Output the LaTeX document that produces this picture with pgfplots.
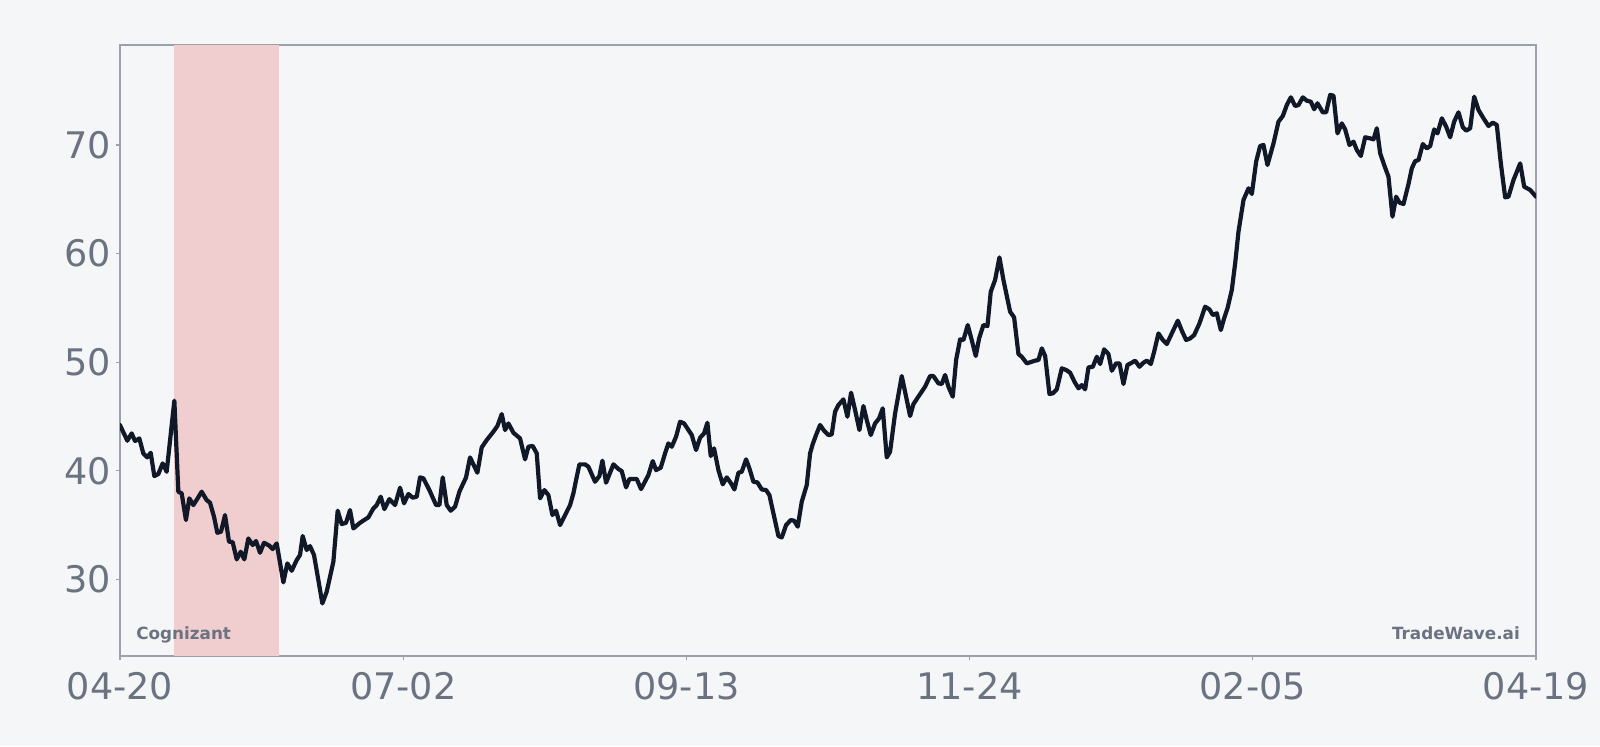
\documentclass[border=0pt]{standalone}
\usepackage{fontspec}
\setmainfont{DejaVu Sans}
\usepackage{pgfplots}
\pgfplotsset{compat=1.18}

\definecolor{bgc}{RGB}{244,246,248}
\definecolor{linec}{RGB}{17,24,39}
\definecolor{tickc}{RGB}{107,114,128}
\definecolor{spinec}{RGB}{156,160,172}
\definecolor{shadec}{RGB}{240,205,206}

% daily close, x = days since 04-20
\pgfplotstableread{
d v
0 44.2
1.89 42.77
3.01 43.44
3.87 42.74
4.98 42.98
6.01 41.60
7.05 41.23
7.91 41.66
8.85 39.51
9.88 39.70
11.0 40.68
12.03 39.91
14.01 46.45
15.04 38.07
15.9 37.92
17.0 35.46
17.87 37.46
18.9 36.84
19.9 37.4
21.05 38.07
22.34 37.30
23.2 37.06
24.23 35.77
25.09 34.29
26.04 34.39
27.07 35.92
28.1 33.47
29.04 33.43
30.08 31.84
31.11 32.54
32.05 31.84
33.08 33.77
34.2 33.16
35.06 33.53
36.09 32.45
37.12 33.37
38.5 33.1
39.36 32.79
40.39 33.31
42.11 29.72
43.14 31.47
44.26 30.79
45.54 31.77
46.4 32.24
47.09 33.99
48.12 32.70
48.98 33.06
50.01 32.24
51.13 29.93
52.16 27.78
53.28 28.86
55.0 31.62
56.11 36.32
57.15 35.09
58.26 35.21
59.29 36.38
60.16 34.69
61.88 35.21
64.02 35.71
65.31 36.53
66.17 36.84
67.2 37.61
68.15 36.47
69.44 37.39
70.9 36.84
72.19 38.44
73.22 37.0
74.34 37.86
75.45 37.52
76.48 37.61
77.34 39.39
78.2 39.3
79.75 38.22
81.47 36.84
82.33 36.84
83.19 39.39
84.22 36.84
85.25 36.32
86.37 36.69
87.48 38.07
89.2 39.39
90.23 41.23
92.12 39.82
93.24 42.15
94.53 42.83
96.25 43.6
97.28 44.12
98.4 45.22
99.26 43.75
100.12 44.36
101.41 43.5
103.12 42.98
104.41 41.05
105.27 42.22
106.39 42.28
107.42 41.6
108.28 37.46
109.4 38.22
110.43 37.76
111.46 35.92
112.4 36.32
113.44 35.0
114.3 35.61
116.01 36.84
116.87 37.92
117.56 39.14
118.42 40.59
119.88 40.59
120.74 40.37
122.45 38.99
123.57 39.51
124.35 40.93
125.29 38.9
127.18 40.59
128.47 40.16
129.33 39.97
130.45 38.47
131.31 39.24
133.2 39.24
134.31 38.31
136.2 39.6
137.32 40.89
138.18 40.06
139.38 40.28
140.5 41.6
141.36 42.52
142.22 42.21
143.34 43.14
144.37 44.52
145.4 44.36
147.38 43.29
148.49 41.91
149.52 43.04
150.55 43.44
151.41 44.42
152.27 41.35
153.13 42.06
154.25 40.06
155.37 38.75
156.4 39.39
157.51 38.84
158.37 38.28
159.41 39.82
160.27 39.91
161.38 41.05
162.24 40.22
163.27 38.99
164.3 38.93
165.42 38.28
166.54 38.22
167.4 37.76
168.43 36.07
169.72 33.99
170.58 33.86
171.7 35.0
172.9 35.46
173.76 35.4
174.7 34.85
175.73 37.15
177.02 38.68
177.88 41.6
178.57 42.46
179.42 43.29
180.46 44.21
181.49 43.69
182.6 43.29
183.46 43.35
184.32 45.44
185.18 46.05
186.47 46.57
187.5 44.98
188.45 47.19
189.48 45.59
190.6 43.75
191.63 45.96
192.49 44.67
193.52 43.29
194.63 44.36
195.67 44.82
196.61 45.75
197.64 41.23
198.5 41.75
199.79 45.28
201.51 48.72
202.63 46.82
203.66 45.04
204.52 46.14
206.06 46.97
207.52 47.74
208.81 48.72
209.67 48.72
210.96 48.05
211.82 47.99
212.68 48.82
213.54 47.74
214.66 46.82
215.52 50.2
216.55 52.1
217.41 52.04
218.52 53.42
219.55 52.04
220.59 50.57
221.45 52.19
222.56 53.42
223.6 53.33
224.45 56.49
225.57 57.57
226.69 59.65
227.72 57.57
229.44 54.65
230.47 54.13
231.59 50.75
232.45 50.5
233.74 49.89
235.89 50.14
236.75 50.2
237.61 51.27
238.47 50.57
239.58 47.07
240.44 47.13
241.47 47.5
242.76 49.43
243.88 49.28
244.91 49.03
246.03 48.2
247.06 47.59
247.92 47.89
248.78 47.5
249.64 49.52
250.76 49.58
251.79 50.5
252.65 49.83
253.68 51.18
254.79 50.75
255.65 49.21
256.77 49.89
257.63 49.89
258.66 47.99
259.69 49.74
260.81 49.95
261.67 50.14
262.79 49.58
263.82 49.95
264.68 50.14
265.71 49.83
266.57 50.97
267.68 52.65
268.8 52.04
269.83 51.67
271.12 52.65
272.67 53.82
273.7 52.9
274.82 52.04
275.85 52.19
276.88 52.5
278.25 53.57
279.71 55.11
280.83 54.86
281.69 54.34
282.72 54.5
283.75 52.96
284.61 54.04
285.47 54.96
286.59 56.65
287.45 59.1
288.31 62.02
289.6 64.94
290.89 66.01
291.75 65.49
292.86 68.47
293.89 69.91
294.75 70.0
295.78 68.16
297.33 70.15
298.62 72.15
299.73 72.67
300.76 73.68
301.8 74.39
302.91 73.59
303.77 73.68
304.89 74.39
305.92 74.08
306.95 73.99
307.81 73.29
308.67 73.84
310.04 73.01
310.9 73.01
311.94 74.61
312.8 74.54
313.83 71.07
314.94 71.99
315.8 71.44
316.92 70.0
317.95 70.31
318.81 69.54
319.84 68.99
320.96 70.71
322.25 70.61
323.11 70.52
323.97 71.54
324.83 69.23
325.86 68.16
326.97 67.08
328.0 63.4
328.95 65.24
329.81 64.69
330.84 64.57
332.13 66.41
332.99 67.85
333.85 68.51
334.71 68.62
335.82 70.09
336.86 69.69
337.72 69.91
338.75 71.44
339.61 71.07
340.72 72.46
341.84 71.69
342.87 70.71
343.9 72.15
345.02 73.01
346.14 71.63
347.0 71.32
348.03 71.54
349.06 74.45
350.18 73.22
351.46 72.46
352.75 71.75
353.87 72.06
354.9 71.84
355.93 68.31
357.05 65.18
357.9 65.24
359.2 66.78
360.92 68.31
361.95 66.16
363.5 65.86
365 65.24
}\prices

\begin{document}
\begin{tikzpicture}
\fill[bgc, use as bounding box] (-60pt,-45pt) rectangle (740pt,328pt);
\begin{axis}[
    at={(0,0)}, anchor=south west,
    scale only axis,
    width=708pt, height=305.5pt,
    xmin=0, xmax=365,
    ymin=22.94, ymax=79.21,
    xtick={0,73,146,219,292,365},
    xticklabels={04-20,07-02,09-13,11-24,02-05,04-19},
    ytick={30,40,50,60,70},
    xtick pos=bottom, ytick pos=left,
    axis background/.style={fill=bgc},
    axis line style={spinec, line width=1pt},
    tick align=outside,
    major tick length=2pt,
    tick style={spinec, line width=0.6pt},
    /pgf/number format/assume math mode=true,
    tick label style={font=\fontsize{18.3}{22}\selectfont, text=tickc, inner sep=0pt},
    xticklabel style={anchor=north, yshift=-6.2pt},
    yticklabel style={anchor=east, xshift=-2.4pt},
    clip=true,
]
\addplot[draw=none, fill=shadec] coordinates {(13.9,22.94) (41,22.94) (41,79.21) (13.9,79.21)} -- cycle;
\addplot[linec, line width=2.1pt, line join=round, line cap=round] table[x=d, y=v] {\prices};
\node[anchor=base west, text=tickc, font=\fontsize{8.4}{10}\selectfont\bfseries] at (rel axis cs:0.0065,0.0273) {Cognizant};
\node[anchor=base east, text=tickc, font=\fontsize{8.4}{10}\selectfont\bfseries] at (rel axis cs:0.9935,0.0262) {TradeWave.ai};
\end{axis}
\end{tikzpicture}
\end{document}
